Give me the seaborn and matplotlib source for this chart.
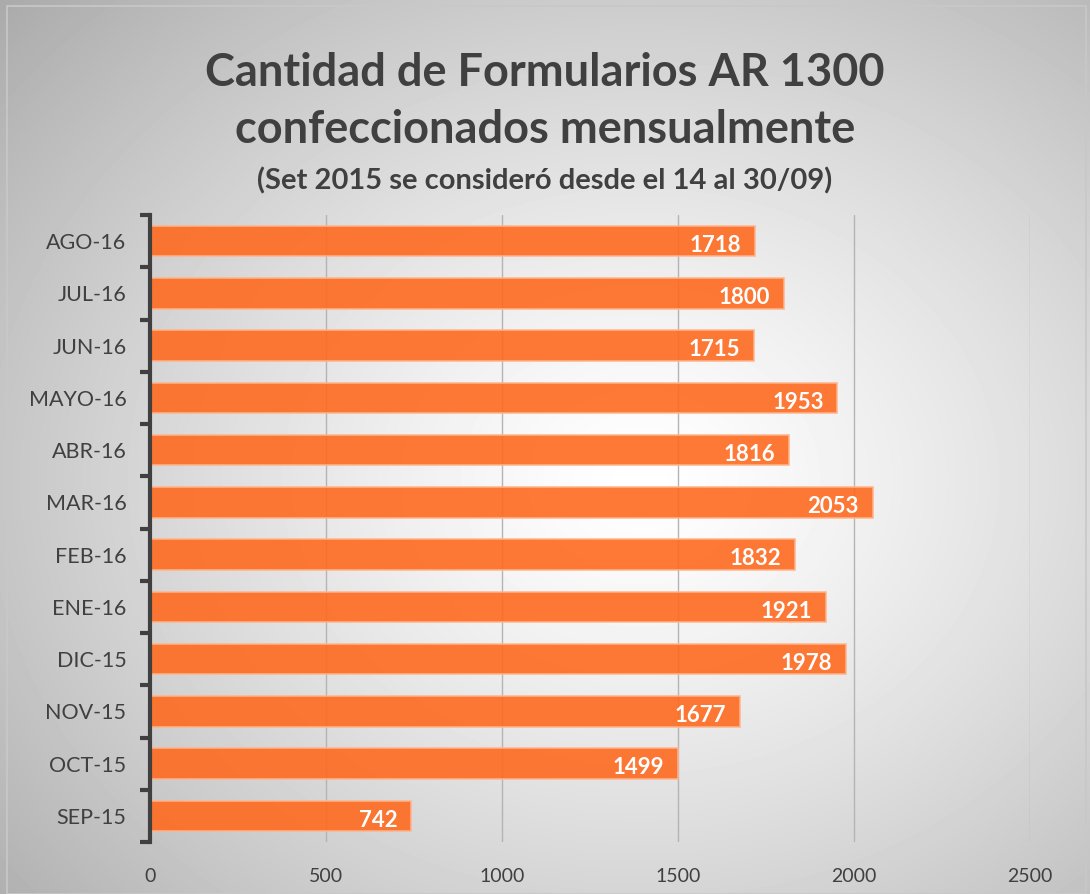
import numpy as np
import pandas as pd
import matplotlib.pyplot as plt
import seaborn as sns

meses = ['AGO-16', 'JUL-16', 'JUN-16', 'MAYO-16', 'ABR-16', 'MAR-16',
         'FEB-16', 'ENE-16', 'DIC-15', 'NOV-15', 'OCT-15', 'SEP-15']
cantidades = [1718, 1800, 1715, 1953, 1816, 2053, 1832, 1921, 1978, 1677, 1499, 742]
x_ticks = [0, 500, 1000, 1500, 2000, 2500]

df = pd.DataFrame({'Mes': meses, 'Cantidad': cantidades})

sns.set_theme(style="white")
plt.rcParams['font.family'] = ['Lato', 'DejaVu Sans']

fig = plt.figure(figsize=(10.9, 8.94), dpi=100)

# radial gradient background
bg = fig.add_axes([0, 0, 1, 1], zorder=-10)
yy, xx = np.mgrid[0:894, 0:1090]
r = np.sqrt(((xx - 640) / 760.0) ** 2 + ((yy - 480) / 620.0) ** 2)
shade = np.clip(1.0 - 0.28 * r ** 1.3, 0, 1)
bg.imshow(shade, cmap='gray', vmin=0, vmax=1, aspect='auto', extent=[0, 1, 0, 1])
bg.add_patch(plt.Rectangle((0.006, 0.0), 0.99, 0.993, fill=False,
                           edgecolor='#c8c8c8', lw=1.2, transform=bg.transAxes))
bg.axis('off')

ax = fig.add_axes([150 / 1090, 1 - 842 / 894, 880 / 1090, 627 / 894])
ax.set_facecolor('none')

sns.barplot(data=df, x='Cantidad', y='Mes', orient='h', ax=ax,
            color='#ff6a20', saturation=1, alpha=0.9, width=0.58,
            edgecolor='#ffb48c', linewidth=1.2, zorder=3)

ax.set_xlim(0, 2500)
ax.set_ylim(11.5, -0.5)
ax.set_xticks(x_ticks)
ax.set_xticklabels([str(t) for t in x_ticks], fontsize=14, color='#404040')
ax.tick_params(axis='x', length=0, pad=19)
ax.tick_params(axis='y', which='major', left=False, length=0, pad=17,
               labelsize=15.5, labelcolor='#404040')
ax.set_yticks(np.arange(-0.5, 12, 1), minor=True)
ax.tick_params(axis='y', which='minor', left=True, length=7, width=3,
               color='#404040', direction='out')

ax.xaxis.grid(True, color='#b4b4b4', lw=1, zorder=0)
ax.set_axisbelow(True)
for s in ['top', 'right', 'bottom']:
    ax.spines[s].set_visible(False)
ax.spines['left'].set_color('#404040')
ax.spines['left'].set_linewidth(3)
ax.spines['left'].set_zorder(5)
ax.set_xlabel('')
ax.set_ylabel('')

for i, v in enumerate(cantidades):
    ax.annotate(str(v), xy=(v, i), xytext=(-10, -3), textcoords='offset points',
                ha='right', va='center', color='white', fontsize=16,
                fontweight='bold', zorder=6)

fig.text(0.5, 0.918, 'Cantidad de Formularios AR 1300', ha='center', va='center',
         fontsize=32.5, fontweight='bold', color='#404040')
fig.text(0.5, 0.855, 'confeccionados mensualmente', ha='center', va='center',
         fontsize=32.5, fontweight='bold', color='#404040')
fig.text(0.5, 0.798, '(Set 2015 se consideró desde el 14 al 30/09)', ha='center',
         va='center', fontsize=21, fontweight='bold', color='#404040')

plt.savefig('out.png', dpi=100)
plt.close()
